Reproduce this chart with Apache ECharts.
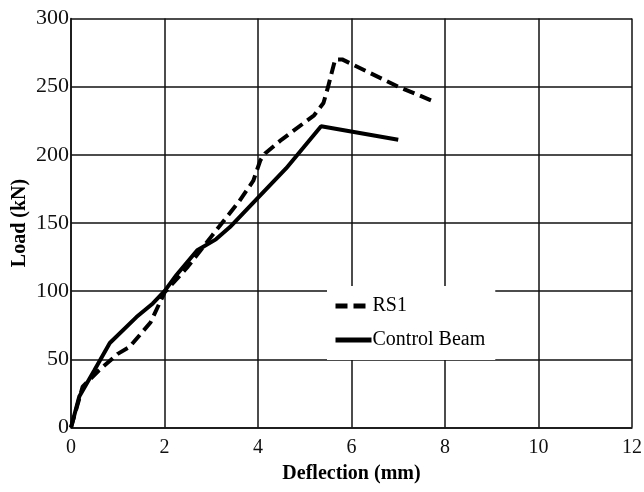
<!DOCTYPE html>
<html>
<head>
<meta charset="utf-8">
<script src="https://cdn.jsdelivr.net/npm/echarts@6/dist/echarts.min.js"></script>
<style>html,body{margin:0;padding:0;background:#fff}#c{width:644px;height:492px}</style>
</head>
<body>
<div id="c"></div>
<script>
const rs1Deflection = [0, 0.25, 0.6, 1.0, 1.25, 1.7, 2.0, 2.5, 3.0, 3.6, 3.9, 4.05, 4.15, 4.5, 5.2, 5.4, 5.5, 5.65, 5.8, 7.0, 7.7];
const rs1Load =       [0, 30, 42, 54, 59, 77, 99, 118, 140, 166, 181, 196, 201, 211, 229, 238, 250, 270, 270, 250, 240];
const ctrlDeflection = [0, 0.18, 0.5, 0.83, 1.4, 1.75, 2.0, 2.26, 2.7, 3.1, 3.4, 3.9, 4.6, 5.35, 7.0];
const ctrlLoad =       [0, 23, 42, 62, 81, 91, 100, 112, 130, 138, 147, 165, 190, 221, 211];
const seriesNames = ['RS1', 'Control Beam'];
const xTitle = 'Deflection (mm)';
const yTitle = 'Load (kN)';

const zip = (a, b) => a.map((v, i) => [v, b[i]]);
const chart = echarts.init(document.getElementById('c'), null, {renderer: 'canvas'});
const serif = 'Liberation Serif';
chart.setOption({
  animation: false,
  backgroundColor: '#fff',
  grid: {left: 71, right: 12, top: 18.5, bottom: 64.5, show: false, containLabel: false, outerBoundsMode: 'none'},
  xAxis: {
    type: 'value', min: 0, max: 12, interval: 2,
    name: xTitle, nameLocation: 'middle', nameGap: 36, nameMoveOverlap: false,
    nameTextStyle: {fontFamily: serif, fontWeight: 'bold', fontSize: 20, color: '#000'},
    axisLine: {show: true, onZero: false, lineStyle: {color: '#111', width: 1.5}},
    axisTick: {show: false},
    axisLabel: {fontFamily: serif, fontSize: 20, color: '#111', margin: 10},
    splitLine: {show: true, lineStyle: {color: '#111', width: 1.5}}
  },
  yAxis: {
    type: 'value', min: 0, max: 300, interval: 50,
    name: yTitle, nameLocation: 'middle', nameGap: 41, nameMoveOverlap: false,
    nameTextStyle: {fontFamily: serif, fontWeight: 'bold', fontSize: 20, color: '#000'},
    axisLine: {show: true, lineStyle: {color: '#111', width: 1.5}},
    axisTick: {show: false},
    axisLabel: {fontFamily: serif, fontSize: 22, color: '#111', margin: 2},
    splitLine: {show: true, lineStyle: {color: '#111', width: 1.5}}
  },
  legend: {
    orient: 'vertical', left: 327, top: 286,
    backgroundColor: '#fff', padding: [10, 10, 10, 6],
    itemWidth: 36, itemHeight: 14, itemGap: 14,
    itemStyle: {color: 'transparent', borderWidth: 0, opacity: 0},
    lineStyle: {width: 5, color: '#000'},
    textStyle: {fontFamily: serif, fontSize: 20, color: '#000', padding: [0, 0, 0, -4]},
    data: seriesNames
  },
  series: [
    {name: seriesNames[0], type: 'line', data: zip(rs1Deflection, rs1Load), symbol: 'none',
     lineStyle: {color: '#000', width: 4, type: [12, 6]}, itemStyle: {color: '#000'}},
    {name: seriesNames[1], type: 'line', data: zip(ctrlDeflection, ctrlLoad), symbol: 'none',
     lineStyle: {color: '#000', width: 4}, itemStyle: {color: '#000'}}
  ]
});
</script>
</body>
</html>
